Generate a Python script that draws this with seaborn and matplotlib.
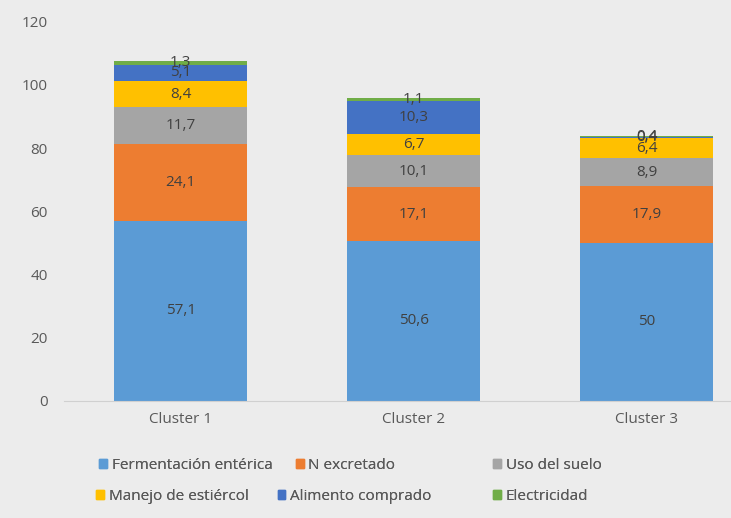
import numpy as np
import pandas as pd
import matplotlib
matplotlib.use("Agg")
import matplotlib.pyplot as plt
import seaborn as sns
from matplotlib.patches import Patch

clusters = ["Cluster 1", "Cluster 2", "Cluster 3"]
series = ["Fermentación entérica", "N excretado", "Uso del suelo",
          "Manejo de estiércol", "Alimento comprado", "Electricidad"]
fermentacion = [57.1, 50.6, 50.0]
n_excretado = [24.1, 17.1, 17.9]
uso_suelo = [11.7, 10.1, 8.9]
manejo = [8.4, 6.7, 6.4]
alimento = [5.1, 10.3, 0.4]
electricidad = [1.3, 1.1, 0.4]
colors = ["#5B9BD5", "#ED7D31", "#A5A5A5", "#FFC000", "#4472C4", "#70AD47"]

values = np.array([fermentacion, n_excretado, uso_suelo, manejo, alimento, electricidad])
cum = values.cumsum(axis=0)

sns.set_style("white")
plt.rcParams['font.family'] = ['Open Sans', 'DejaVu Sans']

fig = plt.figure(figsize=(7.31, 5.18), dpi=100)
fig.patch.set_facecolor("#ececec")
ax = fig.add_axes([0.088, 0.226, 0.956, 0.732])
ax.set_facecolor("#ececec")

# stacked: draw tallest cumulative first, then overlay the lower ones
for i in range(len(series) - 1, -1, -1):
    df = pd.DataFrame({"cluster": clusters, "v": cum[i]})
    sns.barplot(data=df, x="cluster", y="v", color=colors[i], width=0.57,
                saturation=1, ax=ax, edgecolor="none")

for i in range(len(series)):
    for j in range(len(clusters)):
        mid = cum[i, j] - values[i, j] / 2
        lab = f"{values[i, j]:g}".replace(".", ",")
        ax.text(j, mid, lab, ha="center", va="center", fontsize=11, color="#404040")

ax.set_xlim(-0.5, 2.5)
ax.set_ylim(0, 120)
ax.set_yticks(range(0, 121, 20))
ax.set_xlabel("")
ax.set_ylabel("")
ax.tick_params(axis="both", labelsize=11, labelcolor="#595959", length=0)
ax.tick_params(axis="y", pad=12)
ax.tick_params(axis="x", pad=8)
for s in ["top", "right", "left"]:
    ax.spines[s].set_visible(False)
ax.spines["bottom"].set_color("#d0d0d0")

# legend entries placed like the Excel legend (two rows)
leg_pos = [(0.136, 0.102), (0.405, 0.102), (0.675, 0.102),
           (0.132, 0.042), (0.380, 0.042), (0.675, 0.042)]
for k in range(len(series)):
    h = Patch(color=colors[k], label=series[k])
    lg = fig.legend(handles=[h], loc="center left", bbox_to_anchor=leg_pos[k],
                    frameon=False, fontsize=11, labelcolor="#595959", handlelength=0.5,
                    handleheight=0.5, handletextpad=0.3, borderpad=0, borderaxespad=0)
    fig.add_artist(lg)

fig.savefig("out.png", dpi=100, facecolor=fig.get_facecolor())
